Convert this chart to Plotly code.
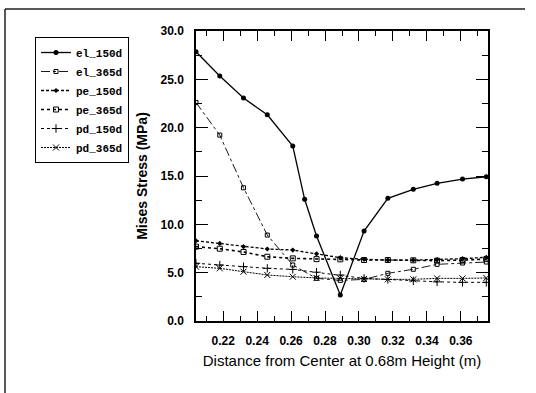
import plotly.graph_objects as go

# ---- data ----
x_el150 = [0.204, 0.218, 0.232, 0.246, 0.261, 0.268, 0.275, 0.289, 0.303, 0.317, 0.332, 0.346, 0.361, 0.375]
el_150d = [27.85, 25.34, 23.06, 21.33, 18.10, 12.59, 8.79, 2.69, 9.31, 12.69, 13.62, 14.24, 14.68, 14.92]

x_common = [0.204, 0.218, 0.232, 0.246, 0.261, 0.275, 0.289, 0.303, 0.317, 0.332, 0.346, 0.361, 0.375]
el_365d = [22.6, 19.23, 13.78, 8.89, 5.79, 4.41, 4.20, 4.30, 4.93, 5.35, 5.86, 6.00, 6.10]
pe_150d = [8.30, 8.03, 7.69, 7.45, 7.34, 6.95, 6.55, 6.38, 6.30, 6.30, 6.35, 6.45, 6.59]
pe_365d = [7.69, 7.48, 7.14, 6.65, 6.48, 6.40, 6.38, 6.31, 6.31, 6.28, 6.24, 6.30, 6.40]
pd_150d = [5.97, 5.79, 5.62, 5.45, 5.34, 5.05, 4.76, 4.41, 4.30, 4.15, 4.05, 4.00, 4.00]
pd_365d = [5.62, 5.45, 5.10, 4.76, 4.58, 4.45, 4.41, 4.35, 4.31, 4.31, 4.41, 4.41, 4.45]

series = [
    ("el_150d", x_el150, el_150d, dict(dash="solid", width=1.3), dict(symbol="circle", size=5)),
    ("el_365d", x_common, el_365d, dict(dash="dashdot", width=0.9), dict(symbol="square-open", size=4, line=dict(width=1))),
    ("pe_150d", x_common, pe_150d, dict(dash="3px,2px", width=1.3), dict(symbol="diamond", size=4)),
    ("pe_365d", x_common, pe_365d, dict(dash="dot", width=1.6), dict(symbol="square-open", size=5, line=dict(width=1))),
    ("pd_150d", x_common, pd_150d, dict(dash="dot", width=1.0), dict(symbol="cross-thin-open", size=6, line=dict(width=1))),
    ("pd_365d", x_common, pd_365d, dict(dash="2px,1px", width=1.0), dict(symbol="x-thin-open", size=6, line=dict(width=1))),
]

fig = go.Figure()
for name, xs, ys, ln, mk in series:
    mk = dict(mk, color="black")
    if "line" in mk:
        mk["line"] = dict(mk["line"], color="black")
    fig.add_trace(go.Scatter(x=xs, y=ys, name=name, mode="lines+markers",
                             line=dict(color="black", **ln), marker=mk))

W, H = 536, 393
L, R, T, B = 196, 48, 31, 72
pw, ph = W - L - R, H - T - B

def px(xp):
    return (xp - L) / pw

def py(yp):
    return (H - B - yp) / ph

tickfont = dict(family="Liberation Sans, Arial", size=12, color="black", weight="bold")

fig.update_layout(
    width=W, height=H,
    margin=dict(l=L, r=R, t=T, b=B),
    paper_bgcolor="white", plot_bgcolor="white",
    showlegend=True,
    legend=dict(x=px(35), y=py(37), xanchor="left", yanchor="top",
                bordercolor="black", borderwidth=1, bgcolor="white",
                font=dict(family="Liberation Mono, Courier New", size=11, color="black", weight="bold"),
                itemwidth=30, tracegroupgap=0),
    xaxis=dict(range=[0.204, 0.376], showgrid=False, zeroline=False,
               showline=True, linecolor="black", linewidth=1.5, mirror="allticks",
               ticks="inside", ticklen=10, tickwidth=1.2, tickcolor="black",
               tick0=0.22, dtick=0.02, tickformat=".2f",
               minor=dict(ticks="inside", ticklen=5, dtick=0.01, tick0=0.21, tickcolor="black", tickwidth=1),
               tickfont=tickfont, ticklabelstandoff=8,
               title=dict(text="Distance from Center at 0.68m Height (m)",
                          font=dict(family="Liberation Sans, Arial", size=15, color="black"),
                          standoff=8)),
    yaxis=dict(range=[0, 30], showgrid=False, zeroline=False,
               showline=True, linecolor="black", linewidth=1.5, mirror="allticks",
               ticks="inside", ticklen=12, tickwidth=1.2, tickcolor="black",
               dtick=5, tickformat=".1f",
               minor=dict(ticks="inside", ticklen=6, dtick=2.5, tickcolor="black", tickwidth=1),
               tickfont=tickfont, ticklabelstandoff=8,
               title=dict(text="Mises Stress (MPa)",
                          font=dict(family="Liberation Sans, Arial", size=14, color="black", weight="bold"),
                          standoff=10)),
    shapes=[
        dict(type="line", xref="paper", yref="paper", x0=px(5), x1=px(525), y0=py(9), y1=py(9),
             line=dict(color="#222", width=1.5)),
        dict(type="line", xref="paper", yref="paper", x0=px(5), x1=px(5), y0=py(9), y1=py(393),
             line=dict(color="#222", width=1.5)),
    ],
)

fig.write_html("out.html")
